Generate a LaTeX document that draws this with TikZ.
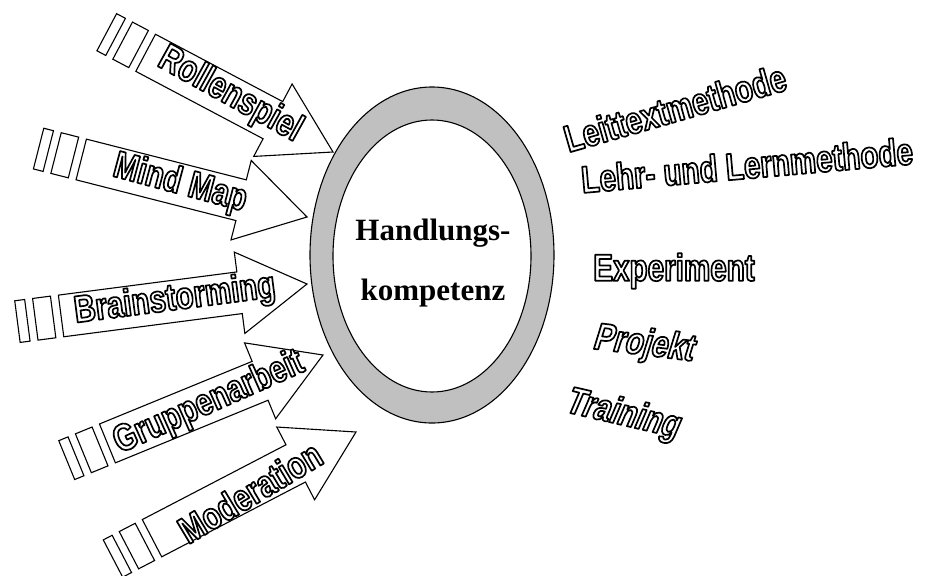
\documentclass[tikz,border=0pt]{standalone}
\usepackage{fontspec}
\setmainfont{Liberation Serif}
\newfontfamily\wafont[FakeStretch=0.78]{Liberation Sans}
\newfontfamily\waslant[FakeStretch=0.78,FakeSlant=0.18]{Liberation Sans}
\newcommand\outl[1]{\special{pdf:literal direct 1 g 0 G 2 Tr 1.7 w 1 j}#1\special{pdf:literal direct 0 Tr 0 g 0 G}}
\definecolor{ringgray}{RGB}{192,192,192}
\tikzset{
  arrowshape/.style={draw=black, fill=white, line width=1.1pt, line join=miter},
  wa/.style={font=\wafont\bfseries\fontsize{38}{38}\selectfont, inner sep=0pt},
  waS/.style={font=\waslant\bfseries\fontsize{38}{38}\selectfont, inner sep=0pt},
  center/.style={font=\bfseries\fontsize{31}{31}\selectfont, inner sep=0pt},
}
\newcommand\stripearrow[3]{%
  \begin{scope}[shift={#1}, rotate=#2]
    \pgfmathsetmacro\sx{-(#3)+44}
    \draw[arrowshape] (0,0) -- (-68,41) -- (-68,21) -- (\sx,21) -- (\sx,-21) -- (-68,-21) -- (-68,-41) -- cycle;
    \draw[arrowshape] (\sx-26,21) rectangle (\sx-8,-21);
    \draw[arrowshape] (\sx-44,21) rectangle (\sx-34,-21);
  \end{scope}}
\begin{document}
\begin{tikzpicture}[x=1pt,y=-1pt]
  \useasboundingbox (0,0) rectangle (927,576);
  % ring
  \draw[line width=1.1pt, fill=ringgray] (432,255) ellipse [x radius=122, y radius=168];
  \draw[line width=1.1pt, fill=white] (432,256) ellipse [x radius=99, y radius=136];
  \node[center] (h1) at (433,233) {Handlungs-};
  \node[center] (h2) at (433,293) {kompetenz};
  % arrows
  \stripearrow{(333,152)}{-27.9}{256}
  \stripearrow{(307,217)}{-14.3}{277}
  \stripearrow{(307,284)}{7.4}{292}
  \stripearrow{(323,355)}{22.3}{277}
  \stripearrow{(356,432)}{27.5}{274}
  % arrow labels
  \node[wa, rotate=-29] (t1) at (230,95) {\outl{Rollenspiel}};
  \node[wa, rotate=-15] (t2) at (180,184) {\outl{Mind Map}};
  \node[wa, rotate=7.4] (t3) at (175,300) {\outl{Brainstorming}};
  \node[wa, rotate=24] (t4) at (209,403) {\outl{Gruppenarbeit}};
  \node[wa, rotate=31] (t5) at (250,492) {\outl{Moderation}};
  % right texts
  \node[wa, rotate=16] (r1) at (675,108) {\outl{Leittextmethode}};
  \node[wa, rotate=5] (r2) at (747,165) {\outl{Lehr- und Lernmethode}};
  \node[wa] (r3) at (674,271) {\outl{Experiment}};
  \node[waS, rotate=-7] (r4) at (643,345) {\outl{Projekt}};
  \node[waS, rotate=-13] (r5) at (622,415) {\outl{Training}};
\end{tikzpicture}
\end{document}
